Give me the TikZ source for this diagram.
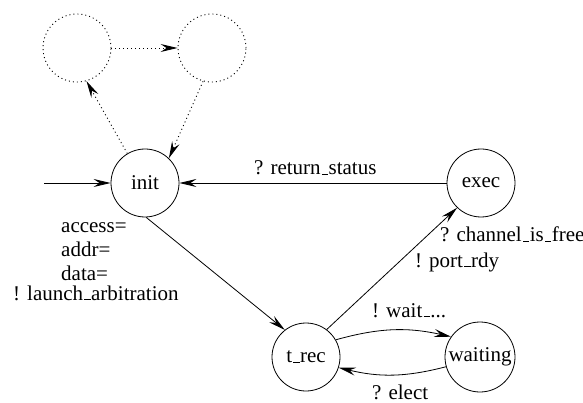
\documentclass[tikz,border=0pt]{standalone}
\usepackage{fontspec}
\setmainfont{Liberation Serif}
\usetikzlibrary{arrows.meta}
\newcommand\us{\leavevmode\kern.06em\vbox{\hrule width.3em height .045em}\kern.02em}
\begin{document}
\begin{tikzpicture}[x=1pt,y=-1pt,
  state/.style={circle,draw,line width=0.8pt,minimum size=68pt,inner sep=0pt,font=\fontsize{21}{24}\selectfont},
  ghost/.style={circle,draw,line width=0.9pt,dash pattern=on 1pt off 3pt,minimum size=68pt,inner sep=0pt},
  lbl/.style={anchor=base west,inner sep=0pt,font=\fontsize{21}{24}\selectfont},
  conn/.style={line width=0.8pt,-{Stealth[length=17pt,width=8pt,inset=6pt]}},
  dconn/.style={conn,line width=0.9pt,dash pattern=on 1pt off 3pt}]
\useasboundingbox (0,0) rectangle (583,403);
\node[ghost] (g1) at (77,48) {};
\node[ghost] (g2) at (212,48) {};
\node[state] (init) at (145,183) {init};
\node[state] (exec) at (481,183) {exec};
\node[state] (trec) at (306,357) {t\us rec};
\node[state,minimum size=70pt] (wait) at (480,357) {waiting};
\coordinate (start) at (44,183);

\draw[conn] (start) -- (init.west);
\draw[conn] (exec.west) -- (init.east);
\draw[conn] (init.-88) -- (trec.128);
\draw[conn] (trec.53) -- (exec.226);
\draw[conn] (trec.30) to[bend left=14] (wait.145);
\draw[conn] (wait.196) to[bend left=14] (trec.-18);
\draw[dconn] (init.121) -- (g1.-74);
\draw[dconn] (g1.east) -- (g2.west);
\draw[dconn] (g2.-105) -- (init.46);

\node[lbl] (l1) at (254,175) {? return\us status};
\node[lbl] (l2) at (440,242) {? channel\us is\us free};
\node[lbl] (l3) at (415,267) {! port\us rdy};
\node[lbl] (l4) at (372,317) {! wait\us ...};
\node[lbl] (l5) at (372,399) {? elect};
\node[lbl] (l6) at (61,233) {access=};
\node[lbl] (l7) at (61,256) {addr=};
\node[lbl] (l8) at (61,280) {data=};
\node[lbl] (l9) at (13,300) {! launch\us arbitration};
\end{tikzpicture}
\end{document}
